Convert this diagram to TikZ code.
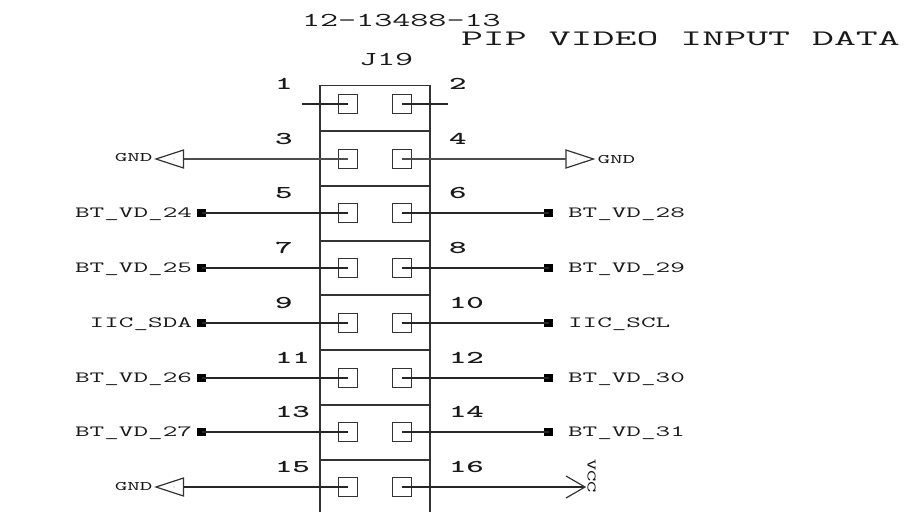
\documentclass[tikz,border=0pt]{standalone}
\usepackage{fontspec}
\tikzset{
  x=0.75pt,y=-0.75pt,
  wire/.style={line width=0.9pt,black!85},
  heavy/.style={line width=1.3pt,black!70},
  frame/.style={line width=0.9pt,black!80},
  pinbox/.style={draw=black!80,line width=0.9pt,minimum size=13.8pt,inner sep=0pt,outer sep=0pt,fill=none},
  endmark/.style={fill=black,draw=none,minimum width=6.6pt,minimum height=6.6pt,inner sep=0pt,outer sep=0pt},
  txt/.style={inner sep=0pt,outer sep=0pt,transform shape,text=black!90},
  pinnum/.style={txt,anchor=base west,xscale=1.85,font=\ttfamily\bfseries\fontsize{13.5}{13.5}\selectfont},
  title/.style={txt,anchor=base west,xscale=1.79,font=\ttfamily\fontsize{14.7}{14.7}\selectfont},
  bigtitle/.style={txt,anchor=base west,xscale=1.925,font=\ttfamily\fontsize{16.6}{16.6}\selectfont},
  siglabel/.style={txt,xscale=1.82,font=\ttfamily\fontsize{11.7}{11.7}\selectfont},
  gndlabel/.style={txt,xscale=1.83,font=\ttfamily\fontsize{9.8}{9.8}\selectfont},
  dotmark/.style={fill=black,inner sep=0pt,minimum size=0.6pt,circle}
}
\begin{document}
\begin{tikzpicture}
\useasboundingbox (0,0) rectangle (905,512);
% connector body
\draw[frame] (320,512) -- (320,85.5) -- (430,85.5) -- (430,512);
\foreach \sy in {131,186,241,295,350,405,460}
  \draw[frame] (320,\sy) -- (430,\sy);
% titles
\node[title] (t1) at (302,26) {12-13488-13};
\node[bigtitle] (t2) at (461,45) {PIP VIDEO INPUT DATA};
\node[title] (j19) at (359,65) {J19};
% pins
\foreach \n/\m/\y in {1/2/104,3/4/159,5/6/213,7/8/268,9/10/323,11/12/378,13/14/432,15/16/487}{
  \node[pinbox] (p\n) at (348,\y) {};
  \node[pinbox] (p\m) at (402,\y) {};
  \node[pinnum] (n\n) at (275,\y-15) {\n};
  \node[pinnum] (n\m) at (449,\y-15) {\m};
}
% row 1 free wires
\coordinate (f1) at (302,104);
\coordinate (f2) at (448,104);
\draw[wire] (f1) -- (p1.center);
\draw[wire] (p2.center) -- (f2);
% signals
\foreach \n/\m/\y/\la/\lb in {5/6/213/BT\_VD\_24/BT\_VD\_28,7/8/268/BT\_VD\_25/BT\_VD\_29,9/10/323/IIC\_SDA/IIC\_SCL,11/12/378/BT\_VD\_26/BT\_VD\_30,13/14/432/BT\_VD\_27/BT\_VD\_31}{
  \node[endmark] (ml\n) at (201.5,\y) {};
  \node[endmark] (mr\m) at (548.5,\y) {};
  \draw[wire] (ml\n.center) -- (p\n.center);
  \draw[wire] (p\m.center) -- (mr\m.center);
  \node[siglabel,anchor=base east] (ll\n) at (192,\y+4) {\la};
  \node[siglabel,anchor=base west] (lr\m) at (568,\y+4) {\lb};
}
% GND symbols
\coordinate (g3) at (183.5,159);
\coordinate (g4) at (566,159);
\coordinate (g15) at (183.5,487);
\draw[frame] (g3) -- ++(0,-9) -- ++(-27.5,9) -- ++(27.5,9) -- cycle;
\draw[frame] (g4) -- ++(0,-9) -- ++(27.5,9) -- ++(-27.5,9) -- cycle;
\draw[frame] (g15) -- ++(0,-9) -- ++(-27.5,9) -- ++(27.5,9) -- cycle;
\draw[heavy] (g3) -- (p3.center);
\draw[heavy] (p4.center) -- (g4);
\draw[wire] (g15) -- (p15.center);
\node[dotmark] (d3) at (174,159) {};
\node[dotmark] (d4) at (576,159) {};
\node[dotmark] (d15) at (174,487) {};
\node[gndlabel,anchor=base east] (gl3) at (152.5,161) {GND};
\node[gndlabel,anchor=base west] (gl4) at (597.5,163) {GND};
\node[gndlabel,anchor=base east] (gl15) at (152.5,490) {GND};
% VCC
\coordinate (v16) at (585,487);
\draw[wire] (p16.center) -- (v16);
\draw[frame] (566,476) -- (v16) -- (566,498);
\node[rotate=-90,gndlabel,xscale=0.9,anchor=center] (vcc) at (591.5,476) {VCC};
\end{tikzpicture}
\end{document}
